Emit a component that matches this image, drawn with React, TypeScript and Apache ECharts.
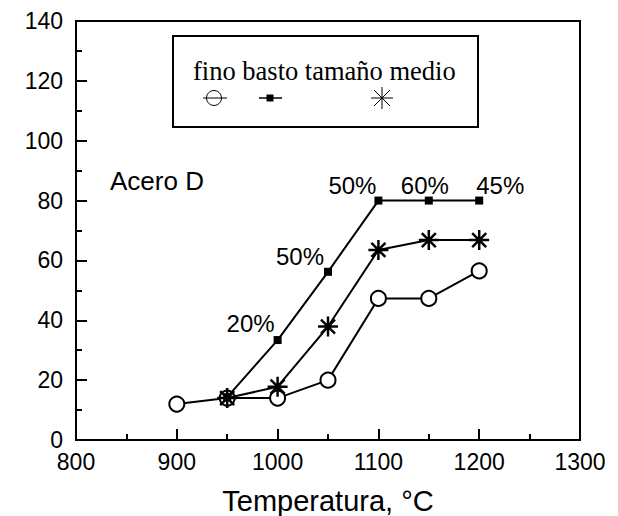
import React, { useEffect, useRef } from 'react';
import * as echarts from 'echarts';

const finoTemps = [900, 950, 1000, 1050, 1100, 1150, 1200];
const fino = [12, 14, 14, 20, 47.3, 47.3, 56.5];
const medioTemps = [950, 1000, 1050, 1100, 1150, 1200];
const medio = [14, 17.8, 37.9, 63.5, 66.8, 66.8];
const bastoTemps = [950, 1000, 1050, 1100, 1150, 1200];
const basto = [14.3, 33.4, 56.2, 80, 80, 80];
const bastoLabels = ['', '20%', '50%', '50%', '60%', '45%'];
const labelOffsets: number[][] = [[0, 0], [-27, -17], [-28, -15], [-26, -15], [-4, -15], [21, -15]];
const legendNames = ['fino', 'basto', 'tamaño medio'];

const SANS = 'Liberation Sans, Arial, sans-serif';
const SERIF = 'Liberation Serif, Times New Roman, serif';
const STAR = 'path://M10 0 L10 20 M0 10 L20 10 M3 3 L17 17 M3 17 L17 3';
const TICK = '#000';

export default function App() {
  const ref = useRef<HTMLDivElement>(null);
  useEffect(() => {
    if (!ref.current) return;
    const chart = echarts.init(ref.current, null, { renderer: 'svg' });
    chart.setOption({
      animation: false,
      backgroundColor: '#fff',
      grid: { left: 76, right: 38, top: 21, bottom: 76, outerBoundsMode: 'none', show: true, borderColor: '#000', borderWidth: 2 },
      xAxis: {
        type: 'value', min: 800, max: 1300, interval: 100,
        axisLine: { show: true, lineStyle: { color: '#000', width: 2 } },
        axisTick: { show: true, inside: true, length: 11, lineStyle: { color: TICK, width: 2 } },
        minorTick: { show: true, splitNumber: 2, length: 6, lineStyle: { color: TICK, width: 2 } },
        splitLine: { show: false },
        axisLabel: { color: '#000', fontSize: 23, fontFamily: SANS, margin: 10, formatter: (v: number) => String(v) },
        name: 'Temperatura, °C', nameLocation: 'middle', nameGap: 46,
        nameTextStyle: { color: '#000', fontSize: 29, fontFamily: SANS },
      },
      yAxis: {
        type: 'value', min: 0, max: 140, interval: 20,
        axisLine: { show: true, lineStyle: { color: '#000', width: 2 } },
        axisTick: { show: true, inside: true, length: 11, lineStyle: { color: TICK, width: 2 } },
        minorTick: { show: true, splitNumber: 2, length: 6, lineStyle: { color: TICK, width: 2 } },
        splitLine: { show: false },
        axisLabel: { color: '#000', fontSize: 23, fontFamily: SANS, margin: 13, formatter: (v: number) => String(v) },
      },
      graphic: [
        { type: 'text', left: 110, top: 168, style: { text: 'Acero D', font: `26px ${SANS}`, fill: '#000' } },
        { type: 'rect', shape: { x: 173, y: 36, width: 305, height: 91 }, style: { fill: '#fff', stroke: '#000', lineWidth: 2 }, z: 10 },
        { type: 'text', x: 193, y: 71, style: { text: legendNames.join(' '), font: `26.5px ${SERIF}`, fill: '#000', textVerticalAlign: 'middle' }, z: 11 },
        { type: 'line', shape: { x1: 203, y1: 98, x2: 227, y2: 98 }, style: { stroke: '#000', lineWidth: 1 }, z: 11 },
        { type: 'circle', shape: { cx: 214, cy: 98, r: 7.5 }, style: { fill: 'none', stroke: '#000', lineWidth: 1 }, z: 11 },
        { type: 'line', shape: { x1: 259, y1: 98, x2: 282, y2: 98 }, style: { stroke: '#000', lineWidth: 1.5 }, z: 11 },
        { type: 'rect', shape: { x: 266.5, y: 94.5, width: 7, height: 7 }, style: { fill: '#000' }, z: 11 },
        { type: 'line', shape: { x1: 371, y1: 98, x2: 393, y2: 98 }, style: { stroke: '#000', lineWidth: 1 }, z: 11 },
        { type: 'line', shape: { x1: 382, y1: 87, x2: 382, y2: 109 }, style: { stroke: '#000', lineWidth: 1 }, z: 11 },
        { type: 'line', shape: { x1: 374, y1: 90, x2: 390, y2: 106 }, style: { stroke: '#000', lineWidth: 1 }, z: 11 },
        { type: 'line', shape: { x1: 374, y1: 106, x2: 390, y2: 90 }, style: { stroke: '#000', lineWidth: 1 }, z: 11 },
      ],
      series: [
        {
          name: legendNames[0], type: 'line',
          data: finoTemps.map((t, i) => [t, fino[i]]),
          symbol: 'circle', symbolSize: 15,
          lineStyle: { color: '#000', width: 2 },
          itemStyle: { color: '#fff', borderColor: '#000', borderWidth: 2 },
          z: 2,
        },
        {
          name: legendNames[2], type: 'line',
          data: medioTemps.map((t, i) => [t, medio[i]]),
          symbol: STAR, symbolSize: 20,
          lineStyle: { color: '#000', width: 2 },
          itemStyle: { color: 'none', borderColor: '#000', borderWidth: 2.5 },
          z: 3,
        },
        {
          name: legendNames[1], type: 'line',
          data: bastoTemps.map((t, i) => ({
            value: [t, basto[i]],
            label: {
              show: bastoLabels[i] !== '',
              formatter: bastoLabels[i],
              position: 'inside',
              offset: labelOffsets[i],
              color: '#000', fontSize: 24, fontFamily: SANS,
              align: 'center', verticalAlign: 'middle',
            },
          })),
          symbol: 'rect', symbolSize: 8,
          lineStyle: { color: '#000', width: 2 },
          itemStyle: { color: '#000' },
          z: 4,
        },
      ],
    });
    return () => chart.dispose();
  }, []);
  return <div ref={ref} style={{ position: 'fixed', left: 0, top: 0, width: 618, height: 516 }} />;
}
